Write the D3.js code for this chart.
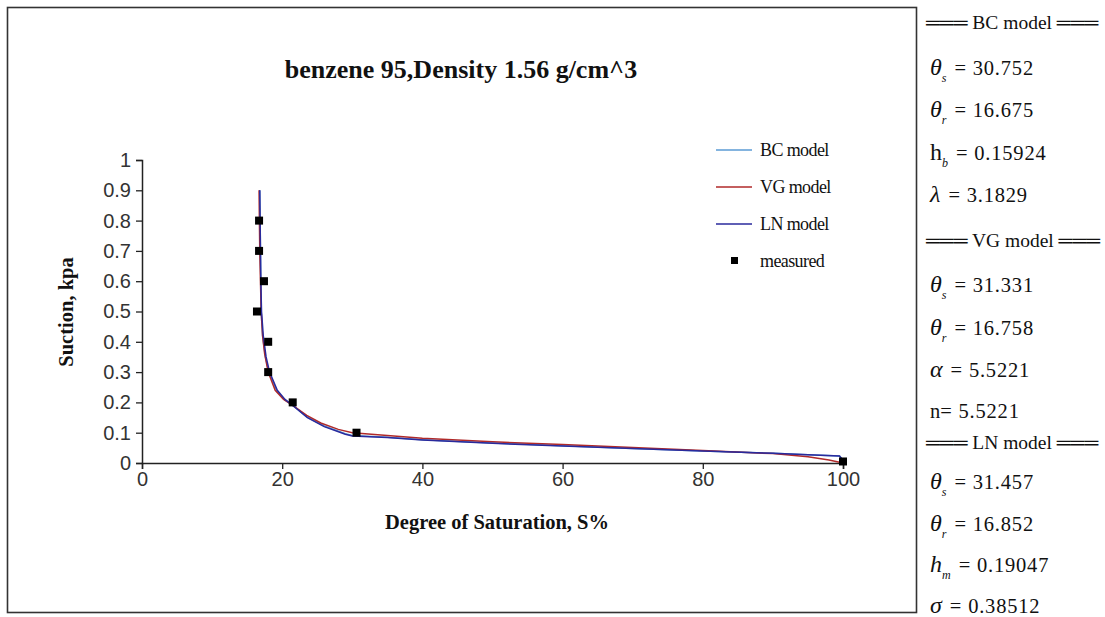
<!DOCTYPE html>
<html><head><meta charset="utf-8">
<script src="https://cdn.jsdelivr.net/npm/d3@7"></script>
<style>body{margin:0;background:#fff;} svg{display:block;}</style>
</head><body>
<svg id="c" width="1105" height="617"></svg>
<script>
const xTicks = [0, 20, 40, 60, 80, 100];
const yTicks = [0, 0.1, 0.2, 0.3, 0.4, 0.5, 0.6, 0.7, 0.8, 0.9, 1];
const yTickLabels = ["0","0.1","0.2","0.3","0.4","0.5","0.6","0.7","0.8","0.9","1"];
const seriesNames = ["BC model", "VG model", "LN model", "measured"];
const bcModel = [[16.8,0.9],[16.85,0.8],[16.9,0.7],[16.95,0.6],[17.0,0.5],[17.2,0.42],[17.6,0.35],[18.1,0.3],[19.2,0.24],[20.3,0.21],[21.5,0.19],[23.5,0.152],[26,0.122],[29,0.097],[30,0.091],[35,0.085],[40,0.077],[50,0.066],[60,0.057],[70,0.048],[80,0.04],[90,0.032],[95,0.027],[99.5,0.023],[100,0.01]];
const vgModel = [[16.7,0.9],[16.75,0.8],[16.8,0.7],[16.9,0.6],[17.0,0.5],[17.2,0.42],[17.5,0.36],[18.0,0.3],[19.0,0.24],[20.2,0.21],[21.5,0.19],[23.5,0.157],[25.5,0.132],[28,0.111],[30,0.1],[35,0.091],[40,0.082],[50,0.07],[60,0.061],[70,0.051],[80,0.041],[90,0.031],[95,0.021],[98,0.01],[100,0.0]];
const lnModel = [[16.8,0.9],[16.85,0.8],[16.9,0.7],[16.95,0.6],[17.05,0.5],[17.3,0.42],[17.7,0.35],[18.2,0.3],[19.3,0.24],[20.4,0.21],[21.6,0.188],[23.6,0.15],[26,0.12],[29,0.095],[30,0.089],[35,0.084],[40,0.076],[50,0.065],[60,0.056],[70,0.048],[80,0.04],[90,0.032],[95,0.027],[99.5,0.023],[100,0.008]];
const measuredS = [16.7, 16.7, 17.4, 16.4, 18.0, 18.0, 21.5, 30.6, 100];
const measuredH = [0.8, 0.7, 0.6, 0.5, 0.4, 0.3, 0.2, 0.1, 0.005];
const paramLines = [
  {t:"hdr", text:"BC model"},
  {sym:"θ", sub:"s", val:"= 30.752"},
  {sym:"θ", sub:"r", val:"=  16.675"},
  {sym:"h", sub:"b", val:"= 0.15924", upright:true},
  {sym:"λ", sub:"", val:"=  3.1829"},
  {t:"hdr", text:"VG model"},
  {sym:"θ", sub:"s", val:"=  31.331"},
  {sym:"θ", sub:"r", val:"= 16.758"},
  {sym:"α", sub:"", val:"= 5.5221"},
  {sym:"n", sub:"", val:"=  5.5221", upright:true, plain:true},
  {t:"hdr", text:"LN model"},
  {sym:"θ", sub:"s", val:"=  31.457"},
  {sym:"θ", sub:"r", val:"= 16.852"},
  {sym:"h", sub:"m", val:"= 0.19047"},
  {sym:"σ", sub:"", val:"= 0.38512"}
];
const paramY = [22, 68, 110, 153, 195, 240, 285, 328, 370, 411, 442, 482, 524, 565, 606];

const svg = d3.select("#c");
const serif = "'Liberation Serif','Times New Roman',serif";
const sans = "'Liberation Sans',Arial,sans-serif";

svg.append("rect").attr("x",7.5).attr("y",7.5).attr("width",909).attr("height",605)
  .attr("fill","none").attr("stroke","#333").attr("stroke-width",1.6);

const x = d3.scaleLinear().domain([0,100]).range([142,843]);
const y = d3.scaleLinear().domain([0,1]).range([463,160]);

// axes
const gx = svg.append("g").attr("transform","translate(0,463)")
  .call(d3.axisBottom(x).tickValues(xTicks).tickSize(6).tickPadding(3).tickFormat(d3.format("d")));
const gy = svg.append("g").attr("transform","translate(142,0)")
  .call(d3.axisLeft(y).tickValues(yTicks).tickSize(6).tickPadding(5).tickFormat((d,i)=>yTickLabels[i]));
[gx,gy].forEach(g=>{
  g.select(".domain").attr("stroke","#222").attr("stroke-width",1.5);
  g.selectAll(".tick line").attr("stroke","#222").attr("stroke-width",1.3);
  g.selectAll(".tick text").attr("fill","#333").style("font-family",sans).style("font-size","20px");
});

// curves
const lineX = d3.line().x(d=>x(d[0])).y(d=>y(d[1])).curve(d3.curveLinear);
svg.append("path").datum(bcModel).attr("d",lineX).attr("fill","none").attr("stroke","#5b9bd5").attr("stroke-width",1.5);
svg.append("path").datum(vgModel).attr("d",lineX).attr("fill","none").attr("stroke","#b02a2a").attr("stroke-width",1.5);
svg.append("path").datum(lnModel).attr("d",lineX).attr("fill","none").attr("stroke","#2a2a9c").attr("stroke-width",1.5);

// measured
svg.append("g").selectAll("rect").data(measuredS).join("rect")
  .attr("x",(d)=>x(d)-4).attr("y",(d,i)=>y(measuredH[i])-4).attr("width",8).attr("height",8).attr("fill","#000");

// title
svg.append("text").attr("x",461).attr("y",78).attr("text-anchor","middle")
  .style("font-family",serif).style("font-weight","bold").style("font-size","26px").attr("fill","#111")
  .text("benzene 95,Density 1.56 g/cm^3");
svg.append("text").attr("x",497).attr("y",529).attr("text-anchor","middle")
  .style("font-family",serif).style("font-weight","bold").style("font-size","20.5px").attr("fill","#111")
  .text("Degree of Saturation, S%");
svg.append("text").attr("transform","translate(73,312) rotate(-90)").attr("text-anchor","middle")
  .style("font-family",serif).style("font-weight","bold").style("font-size","20.5px").attr("fill","#111")
  .text("Suction, kpa");

// legend
const legColors = ["#5b9bd5","#b02a2a","#2a2a9c"];
const legY = [150,187,224,261];
seriesNames.forEach((n,i)=>{
  if(i<3){
    svg.append("line").attr("x1",716).attr("x2",752).attr("y1",legY[i]).attr("y2",legY[i])
      .attr("stroke",legColors[i]).attr("stroke-width",1.5);
  } else {
    svg.append("rect").attr("x",731).attr("y",legY[i]-4).attr("width",7).attr("height",7).attr("fill","#000");
  }
  svg.append("text").attr("x",760).attr("y",legY[i]+6).style("font-family",serif).style("font-size","18px")
    .attr("fill","#111").style("letter-spacing","-0.6px").text(n);
});

// parameter panel
paramLines.forEach((p,i)=>{
  const t = svg.append("text").attr("x",930).attr("y",paramY[i]+7).style("font-family",serif).style("font-size","20.5px").attr("fill","#111");
  if(p.t==="hdr"){
    t.attr("x",926).style("font-size","19.5px").text("═══ "+p.text+" ═══");
  } else {
    t.append("tspan").style("font-style",p.upright?"normal":"italic").style("font-size",p.plain?"20.5px":"24px").text(p.sym);
    if(p.sub) t.append("tspan").attr("dy",7).style("font-size","12px").style("font-style","italic").text(p.sub);
    t.append("tspan").attr("dy",p.sub?-7:0).attr("dx",p.plain?0:8).style("letter-spacing","0.8px").text(p.val);
  }
});
</script>
</body></html>
